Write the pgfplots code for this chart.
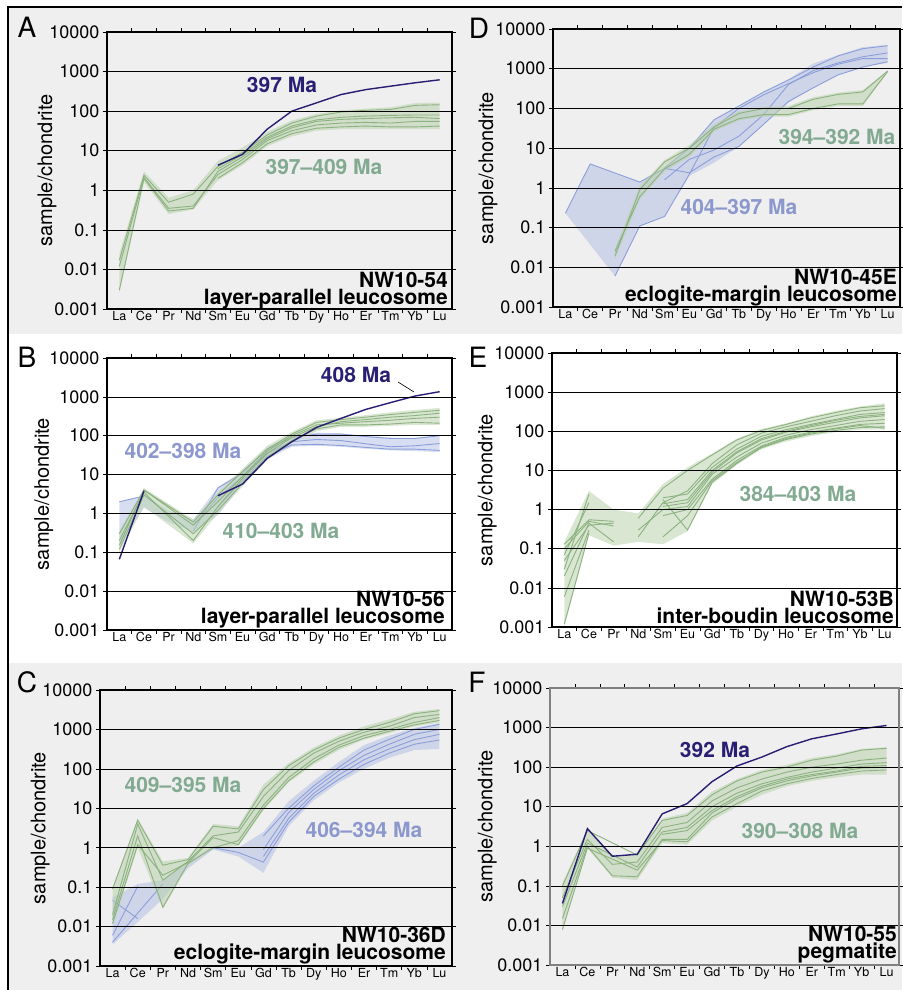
\documentclass[border=0pt]{standalone}
\usepackage{fontspec}
\setmainfont{TeX Gyre Heros}
\usepackage{pgfplots}
\pgfplotsset{compat=1.18}

\definecolor{bggray}{RGB}{239,239,239}
\definecolor{navy}{RGB}{40,30,115}
\definecolor{gline}{RGB}{140,178,128}
\definecolor{gfill}{RGB}{185,209,173}
\definecolor{gtext}{RGB}{130,170,145}
\definecolor{bline}{RGB}{140,158,218}
\definecolor{bfill}{RGB}{176,189,228}
\definecolor{btext}{RGB}{140,152,205}
\definecolor{fgray}{RGB}{128,128,128}

\tikzset{
 gband/.style={fill=gfill, fill opacity=0.55, draw=none},
 bband/.style={fill=bfill, fill opacity=0.5, draw=none},
 gl/.style={gline, line width=0.9pt},
 bl/.style={bline, line width=0.9pt},
 nl/.style={navy, line width=1.4pt},
}
\newcommand{\lab}{\fontsize{21}{21}\selectfont\bfseries}
\newcommand{\cf}{\fontsize{12.5}{13}\selectfont}
\begin{document}
\begin{tikzpicture}
\path[use as bounding box] (0pt,0pt) rectangle (902pt,-990pt);
\fill[bggray] (8pt,-8pt) rectangle (902pt,-334pt);
\fill[bggray] (8pt,-663pt) rectangle (902pt,-990pt);
\draw[line width=1.5pt] (8pt,-990pt) -- (8pt,-7pt) -- (902pt,-7pt);

% ---------------- Panel A ----------------
\begin{semilogyaxis}[at={(107pt,-309pt)}, anchor=south west, width=345pt, height=277pt,
  scale only axis, xmin=-0.5, xmax=13.5, ymin=0.001, ymax=10000,
  ytick={0.001,0.01,0.1,1,10,100,1000,10000},
  yticklabels={0.001,0.01,0.1,1,10,100,1000,10000},
  ymajorgrids, grid style={black, line width=0.7pt},
  axis line style={line width=1.3pt},
  tick align=outside, major tick length=4pt, minor tick length=0pt,
  tick style={black, line width=0.7pt},
  xtick={0.5,1.5,...,12.5}, xticklabels={},
  extra x ticks={0,1,...,13},
  extra x tick labels={{\cf La},{\cf Ce},{\cf Pr},{\cf Nd},{\cf Sm},{\cf Eu},{\cf Gd},{\cf Tb},{\cf Dy},{\cf Ho},{\cf Er},{\cf Tm},{\cf Yb},{\cf Lu}},
  extra x tick style={major tick length=0pt},
  xticklabel style={inner sep=2pt},
  yticklabel style={font=\fontsize{18}{18}\selectfont},
  /pgf/number format/assume math mode=true,
  ylabel={sample/chondrite},
  ylabel style={at={(axis description cs:-0.174,0.5)}, anchor=center, font=\fontsize{20}{20}\selectfont},
  axis on top]
\addplot[gband] coordinates {(0,0.025)(1,3)(2,0.65)(3,1.0)(4,5.5)(5,12)(6,30)(7,58)(8,85)(9,105)(10,115)(11,125)(12,160)(13,165)
 (13,35)(12,35)(11,35)(10,35)(9,35)(8,32)(7,23)(6,13)(5,4.3)(4,1.8)(3,0.33)(2,0.25)(1,1.6)(0,0.0025)} --cycle;
\addplot[gl] coordinates {(0,0.017)(1,2.4)(2,0.5)(3,0.8)(4,4)(5,9)(6,25)(7,50)(8,75)(9,95)(10,105)(11,110)(12,140)(13,145)};
\addplot[gl] coordinates {(0,0.003)(1,2.0)(2,0.3)(3,0.35)(4,3)(5,7)(6,20)(7,38)(8,55)(9,62)(10,65)(11,68)(12,70)(13,65)};
\addplot[gl] coordinates {(0,0.012)(1,2.1)(2,0.35)(3,0.4)(4,2.5)(5,6)(6,18)(7,32)(8,45)(9,50)(10,52)(11,50)(12,55)(13,55)};
\addplot[gl] coordinates {(4,2)(5,5)(6,15)(7,27)(8,37)(9,40)(10,42)(11,40)(12,40)(13,42)};
\addplot[gl] coordinates {(4,3.5)(5,8)(6,22)(7,42)(8,60)(9,70)(10,75)(11,78)(12,80)(13,80)};
\addplot[nl] coordinates {(4,4.3)(5,8.1)(6,35)(7,100)(8,162)(9,263)(10,350)(11,427)(12,520)(13,620)};
\end{semilogyaxis}

% ---------------- Panel D ----------------
\begin{semilogyaxis}[at={(553pt,-307pt)}, anchor=south west, width=347pt, height=278pt,
  scale only axis, xmin=-0.5, xmax=13.5, ymin=0.001, ymax=10000,
  ytick={0.001,0.01,0.1,1,10,100,1000,10000},
  yticklabels={0.001,0.01,0.1,1,10,100,1000,10000},
  ymajorgrids, grid style={black, line width=0.7pt},
  axis line style={line width=1.3pt},
  tick align=outside, major tick length=4pt, minor tick length=0pt,
  tick style={black, line width=0.7pt},
  xtick={0.5,1.5,...,12.5}, xticklabels={},
  extra x ticks={0,1,...,13},
  extra x tick labels={{\cf La},{\cf Ce},{\cf Pr},{\cf Nd},{\cf Sm},{\cf Eu},{\cf Gd},{\cf Tb},{\cf Dy},{\cf Ho},{\cf Er},{\cf Tm},{\cf Yb},{\cf Lu}},
  extra x tick style={major tick length=0pt},
  xticklabel style={inner sep=2pt},
  yticklabel style={font=\fontsize{18}{18}\selectfont},
  /pgf/number format/assume math mode=true,
  ylabel={sample/chondrite},
  ylabel style={at={(axis description cs:-0.187,0.5)}, anchor=center, font=\fontsize{20}{20}\selectfont},
  axis on top]
\addplot[bband] coordinates {(0,0.23)(1,4.0)(3,1.4)(4,3.2)(5,10)(6,52)(7,115)(8,260)(9,540)(10,1350)(11,2200)(12,3500)(13,4000)
 (13,1400)(12,1100)(11,700)(10,330)(9,140)(8,40)(7,11)(6,4.3)(5,2.0)(4,0.19)(3,0.11)(2,0.006)} --cycle;
\addplot[bl] coordinates {(0,0.23)(1,4.0)(3,1.4)(4,3.1)(5,2.4)(6,6)(7,11)(8,40)(9,150)(10,330)(11,700)(12,1100)(13,1500)};
\addplot[bl] coordinates {(2,0.006)(3,0.11)(4,0.19)(5,2.2)(6,33)(7,100)(8,220)(9,420)(10,800)(11,1300)(12,1800)(13,1800)};
\addplot[bl] coordinates {(4,1.6)(5,5.2)(6,9)(7,20)(8,70)(9,400)(10,900)(11,1400)(12,2000)(13,2500)};
\addplot[bl] coordinates {(4,3.2)(5,10)(6,52)(7,115)(8,260)(9,520)(10,1100)(11,2100)(12,3200)(13,3800)};
\addplot[gband] coordinates {(2,0.03)(3,1.1)(4,5)(5,12)(6,40)(7,85)(8,110)(9,115)(10,190)(11,250)(12,290)(13,900)
 (13,800)(12,115)(11,115)(10,90)(9,62)(8,62)(7,50)(6,26)(5,6)(4,2.6)(3,0.5)(2,0.016)} --cycle;
\addplot[gl] coordinates {(2,0.019)(3,0.9)(4,4.5)(5,10)(6,34)(7,75)(8,100)(9,100)(10,170)(11,225)(12,260)(13,870)};
\addplot[gl] coordinates {(2,0.025)(3,0.6)(4,3)(5,7)(6,30)(7,55)(8,70)(9,70)(10,100)(11,130)(12,130)(13,850)};
\end{semilogyaxis}

% ---------------- Panel B ----------------
\begin{semilogyaxis}[at={(107pt,-630pt)}, anchor=south west, width=345pt, height=272pt,
  scale only axis, xmin=-0.5, xmax=13.5, ymin=0.001, ymax=10000,
  ytick={0.001,0.01,0.1,1,10,100,1000,10000},
  yticklabels={0.001,0.01,0.1,1,10,100,1000,10000},
  ymajorgrids, grid style={black, line width=0.7pt},
  axis line style={line width=1.3pt},
  tick align=outside, major tick length=4pt, minor tick length=0pt,
  tick style={black, line width=0.7pt},
  xtick={0.5,1.5,...,12.5}, xticklabels={},
  extra x ticks={0,1,...,13},
  extra x tick labels={{\cf La},{\cf Ce},{\cf Pr},{\cf Nd},{\cf Sm},{\cf Eu},{\cf Gd},{\cf Tb},{\cf Dy},{\cf Ho},{\cf Er},{\cf Tm},{\cf Yb},{\cf Lu}},
  extra x tick style={major tick length=0pt},
  xticklabel style={inner sep=2pt},
  yticklabel style={font=\fontsize{18}{18}\selectfont},
  /pgf/number format/assume math mode=true,
  ylabel={sample/chondrite},
  ylabel style={at={(axis description cs:-0.183,0.5)}, anchor=center, font=\fontsize{20}{20}\selectfont},
  axis on top]
\addplot[bband] coordinates {(0,2.0)(1,2.9)(2,1.2)(3,0.7)(4,4.8)(5,12)(6,50)(7,100)(8,120)(9,115)(10,100)(11,90)(12,88)(13,105)
 (13,38)(12,40)(11,42)(10,46)(9,52)(8,55)(7,52)(6,25)(5,6)(4,0.9)(3,0.33)(2,0.6)(1,1.4)(0,0.15)} --cycle;
\addplot[bl] coordinates {(0,2.0)(1,2.8)};
\addplot[bl] coordinates {(3,0.35)(4,4.5)(5,11)(6,45)(7,90)(8,110)(9,110)(10,95)(11,85)(12,85)(13,100)};
\addplot[bl] coordinates {(3,0.5)(4,2.5)(5,9)(6,35)(7,70)(8,80)(9,75)(10,62)(11,52)(12,55)(13,63)};
\addplot[bl] coordinates {(4,1.5)(5,7)(6,30)(7,58)(8,60)(9,56)(10,50)(11,45)(12,45)(13,42)};
\addplot[gband] coordinates {(0,0.35)(1,4.5)(3,0.7)(4,3.5)(5,14)(6,55)(7,125)(8,250)(9,290)(10,340)(11,400)(12,460)(13,520)
 (13,190)(12,190)(11,180)(10,170)(9,170)(8,130)(7,65)(6,24)(5,5)(4,1.0)(3,0.17)(1,1.5)(0,0.1)} --cycle;
\addplot[gl] coordinates {(0,0.3)(1,4)(3,0.6)(4,3)(5,12)(6,45)(7,110)(8,220)(9,260)(10,300)(11,350)(12,400)(13,450)};
\addplot[gl] coordinates {(0,0.2)(1,3.5)(3,0.2)(4,1.5)(5,8)(6,35)(7,90)(8,170)(9,230)(10,260)(11,300)(12,330)(13,380)};
\addplot[gl] coordinates {(0,0.15)(1,4)(3,0.5)(4,2)(5,9)(6,40)(7,100)(8,190)(9,210)(10,230)(11,250)(12,280)(13,300)};
\addplot[gl] coordinates {(0,0.12)(1,3)(3,0.3)(4,1.2)(5,6)(6,28)(7,75)(8,150)(9,190)(10,190)(11,200)(12,220)(13,210)};
\addplot[nl] coordinates {(0,0.066)(1,3.8)};
\addplot[nl] coordinates {(4,2.85)(5,5.7)(6,26)(7,70)(8,163)(9,280)(10,475)(11,710)(12,1050)(13,1360)};
\end{semilogyaxis}

% ---------------- Panel E ----------------
\begin{semilogyaxis}[at={(552pt,-627pt)}, anchor=south west, width=345pt, height=274pt,
  scale only axis, xmin=-0.5, xmax=13.5, ymin=0.001, ymax=10000,
  ytick={0.001,0.01,0.1,1,10,100,1000,10000},
  yticklabels={0.001,0.01,0.1,1,10,100,1000,10000},
  ymajorgrids, grid style={black, line width=0.7pt},
  axis line style={line width=1.3pt},
  tick align=outside, major tick length=4pt, minor tick length=0pt,
  tick style={black, line width=0.7pt},
  xtick={0.5,1.5,...,12.5}, xticklabels={},
  extra x ticks={0,1,...,13},
  extra x tick labels={{\cf La},{\cf Ce},{\cf Pr},{\cf Nd},{\cf Sm},{\cf Eu},{\cf Gd},{\cf Tb},{\cf Dy},{\cf Ho},{\cf Er},{\cf Tm},{\cf Yb},{\cf Lu}},
  extra x tick style={major tick length=0pt},
  xticklabel style={inner sep=2pt},
  yticklabel style={font=\fontsize{18}{18}\selectfont},
  /pgf/number format/assume math mode=true,
  ylabel={sample/chondrite},
  ylabel style={at={(axis description cs:-0.188,0.5)}, anchor=center, font=\fontsize{20}{20}\selectfont},
  axis on top]
\addplot[gband] coordinates {(0,0.15)(1,3)(2,1.0)(3,0.8)(4,4.5)(5,12)(6,27)(7,65)(8,115)(9,160)(10,240)(11,330)(12,430)(13,520)
 (13,110)(12,110)(11,95)(10,75)(9,55)(8,35)(7,14)(6,4.5)(5,0.28)(4,0.13)(3,0.15)(2,0.12)(1,0.22)(0,0.001)} --cycle;
\addplot[gl] coordinates {(0,0.13)(1,0.55)(2,0.5)};
\addplot[gl] coordinates {(0,0.1)(1,0.5)(2,0.38)};
\addplot[gl] coordinates {(0,0.07)(1,1.5)};
\addplot[gl] coordinates {(0,0.05)(1,0.4)(2,0.45)};
\addplot[gl] coordinates {(0,0.03)(1,2.5)};
\addplot[gl] coordinates {(0,0.02)(1,0.45)(2,0.15)};
\addplot[gl] coordinates {(0,0.006)(1,0.3)};
\addplot[gl] coordinates {(0,0.0012)(1,0.25)};
\addplot[gl] coordinates {(3,0.6)(4,3.5)(5,10)(6,25)(7,60)(8,105)(9,150)(10,220)(11,300)(12,400)(13,450)};
\addplot[gl] coordinates {(3,0.2)(4,1.5)(5,3)(6,15)(7,45)(8,90)(9,130)(10,180)(11,250)(12,330)(13,380)};
\addplot[gl] coordinates {(4,2)(5,2.5)(6,12)(7,35)(8,75)(9,110)(10,150)(11,200)(12,270)(13,300)};
\addplot[gl] coordinates {(4,1.2)(5,1.5)(6,9)(7,28)(8,60)(9,95)(10,130)(11,170)(12,220)(13,250)};
\addplot[gl] coordinates {(3,0.3)(4,1)(5,1.2)(6,8)(7,22)(8,50)(9,80)(10,110)(11,140)(12,180)(13,200)};
\addplot[gl] coordinates {(4,0.7)(5,1.0)(6,6)(7,18)(8,42)(9,70)(10,95)(11,120)(12,150)(13,160)};
\addplot[gl] coordinates {(4,0.2)(5,0.7)(6,5.5)(7,16)(8,38)(9,62)(10,85)(11,105)(12,125)(13,130)};
\addplot[gl] coordinates {(4,1.8)(5,0.3)(6,5)(7,15)(8,40)(9,65)(10,90)(11,115)(12,140)(13,120)};
\addplot[gl] coordinates {(4,1.4)(5,1.8)(6,10)(7,30)(8,65)(9,100)(10,140)(11,190)(12,240)(13,270)};
\end{semilogyaxis}

% ---------------- Panel C ----------------
\begin{semilogyaxis}[at={(100pt,-966pt)}, anchor=south west, width=352pt, height=276pt,
  scale only axis, xmin=-0.5, xmax=13.5, ymin=0.001, ymax=10000,
  ytick={0.001,0.01,0.1,1,10,100,1000,10000},
  yticklabels={0.001,0.01,0.1,1,10,100,1000,10000},
  ymajorgrids, grid style={black, line width=0.7pt},
  axis line style={line width=1.3pt},
  tick align=outside, major tick length=4pt, minor tick length=0pt,
  tick style={black, line width=0.7pt},
  xtick={0.5,1.5,...,12.5}, xticklabels={},
  extra x ticks={0,1,...,13},
  extra x tick labels={{\cf La},{\cf Ce},{\cf Pr},{\cf Nd},{\cf Sm},{\cf Eu},{\cf Gd},{\cf Tb},{\cf Dy},{\cf Ho},{\cf Er},{\cf Tm},{\cf Yb},{\cf Lu}},
  extra x tick style={major tick length=0pt},
  xticklabel style={inner sep=2pt},
  yticklabel style={font=\fontsize{18}{18}\selectfont},
  /pgf/number format/assume math mode=true,
  ylabel={sample/chondrite},
  ylabel style={at={(axis description cs:-0.17,0.5)}, anchor=center, font=\fontsize{20}{20}\selectfont},
  axis on top]
\addplot[bband] coordinates {(0,0.055)(1,0.12)(2,0.15)(3,0.45)(4,1.1)(5,1.0)(6,2.5)(7,15)(8,50)(9,150)(10,400)(11,700)(12,1100)(13,1450)
 (13,320)(12,300)(11,190)(10,100)(9,45)(8,16)(7,3.5)(6,0.23)(5,0.6)(4,0.9)(3,0.3)(2,0.05)(1,0.013)(0,0.0035)} --cycle;
\addplot[bl] coordinates {(6,2)(7,10)(8,37)(9,110)(10,300)(11,560)(12,1000)(13,1350)};
\addplot[bl] coordinates {(6,0.9)(7,7.8)(8,30)(9,90)(10,220)(11,420)(12,750)(13,1000)};
\addplot[bl] coordinates {(6,0.6)(7,5.5)(8,24)(9,70)(10,170)(11,320)(12,550)(13,750)};
\addplot[bl] coordinates {(4,1.0)(5,0.76)(6,0.43)(7,4.4)(8,20)(9,55)(10,130)(11,250)(12,420)(13,540)};
\addplot[bl] coordinates {(0,0.046)(1,0.016)};
\addplot[bl] coordinates {(0,0.006)(1,0.105)};
\addplot[bl] coordinates {(0,0.004)(1,0.022)(2,0.12)};
\addplot[gband] coordinates {(0,0.1)(1,5.5)(2,0.45)(3,0.55)(4,4)(5,3.5)(6,40)(7,140)(8,350)(9,700)(10,1200)(11,1800)(12,2800)(13,3300)
 (13,1500)(12,1200)(11,800)(10,550)(9,300)(8,130)(7,45)(6,9)(5,1.1)(4,0.95)(3,0.35)(2,0.028)(1,1.0)(0,0.01)} --cycle;
\addplot[gl] coordinates {(0,0.09)(1,5)(2,0.36)(3,0.5)(4,3.5)(5,3)(6,30)(7,120)(8,300)(9,600)(10,1000)(11,1500)(12,2500)(13,3000)};
\addplot[gl] coordinates {(0,0.02)(1,4)(2,0.15)(3,0.45)(4,2)(5,2.5)(6,20)(7,90)(8,250)(9,500)(10,850)(11,1200)(12,2000)(13,2400)};
\addplot[gl] coordinates {(0,0.015)(1,2)(2,0.031)(3,0.4)(4,1.0)(5,1.5)(6,12)(7,60)(8,180)(9,400)(10,700)(11,1000)(12,1500)(13,2000)};
\addplot[gl] coordinates {(0,0.012)(1,1.2)(2,0.2)(3,0.42)(4,1.8)(5,1.2)(6,10)(7,50)(8,150)(9,350)(10,600)(11,900)(12,1300)(13,1700)};
\end{semilogyaxis}

% ---------------- Panel F ----------------
\begin{semilogyaxis}[at={(550pt,-965pt)}, anchor=south west, width=349pt, height=277pt,
  scale only axis, xmin=-0.5, xmax=13.5, ymin=0.001, ymax=10000,
  ytick={0.001,0.01,0.1,1,10,100,1000,10000},
  yticklabels={0.001,0.01,0.1,1,10,100,1000,10000},
  ymajorgrids, grid style={black, line width=0.7pt},
  axis line style={line width=1.3pt, fgray},
  tick align=outside, major tick length=4pt, minor tick length=0pt,
  tick style={black, line width=0.7pt},
  xtick={0.5,1.5,...,12.5}, xticklabels={},
  extra x ticks={0,1,...,13},
  extra x tick labels={{\cf La},{\cf Ce},{\cf Pr},{\cf Nd},{\cf Sm},{\cf Eu},{\cf Gd},{\cf Tb},{\cf Dy},{\cf Ho},{\cf Er},{\cf Tm},{\cf Yb},{\cf Lu}},
  extra x tick style={major tick length=0pt},
  xticklabel style={inner sep=2pt},
  yticklabel style={font=\fontsize{18}{18}\selectfont},
  /pgf/number format/assume math mode=true,
  ylabel={sample/chondrite},
  ylabel style={at={(axis description cs:-0.18,0.5)}, anchor=center, font=\fontsize{20}{20}\selectfont},
  axis on top]
\addplot[gband] coordinates {(0,0.12)(1,2.8)(2,0.55)(3,0.65)(4,5)(5,7)(6,24)(7,50)(8,85)(9,115)(10,170)(11,210)(12,290)(13,320)
 (13,65)(12,65)(11,55)(10,45)(9,33)(8,20)(7,10)(6,4.5)(5,1.1)(4,1.2)(3,0.14)(2,0.16)(1,0.9)(0,0.007)} --cycle;
\addplot[gl] coordinates {(0,0.1)(1,2.5)(3,0.6)(4,4.5)(5,6)(6,20)(7,45)(8,75)(9,100)(10,150)(11,190)(12,270)(13,300)};
\addplot[gl] coordinates {(0,0.05)(1,1.5)(2,0.35)(3,0.4)(4,3)(5,4)(6,14)(7,30)(8,50)(9,75)(10,100)(11,120)(12,150)(13,170)};
\addplot[gl] coordinates {(0,0.03)(1,1.2)(3,0.3)(4,2.3)(5,3)(6,10)(7,22)(8,38)(9,55)(10,75)(11,95)(12,120)(13,130)};
\addplot[gl] coordinates {(0,0.015)(1,1.0)(2,0.18)(3,0.17)(4,1.5)(5,1.5)(6,7)(7,16)(8,30)(9,45)(10,60)(11,75)(12,95)(13,100)};
\addplot[gl] coordinates {(0,0.008)(1,0.9)(3,0.25)(4,1.4)(5,1.3)(6,5.5)(7,12)(8,25)(9,38)(10,52)(11,65)(12,80)(13,85)};
\addplot[gl] coordinates {(4,2)(5,2.5)(6,8)(7,18)(8,33)(9,50)(10,65)(11,80)(12,105)(13,110)};
\addplot[nl] coordinates {(0,0.036)(1,2.8)(2,0.56)(3,0.63)(4,6.6)(5,12)(6,43)(7,107)(8,180)(9,330)(10,520)(11,690)(12,930)(13,1130)};
\end{semilogyaxis}

% ---------------- Panel letters ----------------
\begin{scope}[every node/.style={font=\fontsize{28}{28}\selectfont, anchor=center, inner sep=0pt}]
\node at (27pt,-27pt) {A};
\node at (479pt,-28pt) {D};
\node at (27pt,-357pt) {B};
\node at (478pt,-357pt) {E};
\node at (27pt,-682pt) {C};
\node at (477pt,-682pt) {F};
\end{scope}

% ---------------- Labels ----------------
\begin{scope}[every node/.style={font=\lab, inner sep=0pt}]
\node[navy, anchor=center] at (282pt,-85pt) {397 Ma};
\node[gtext, anchor=center] at (324pt,-167pt) {397--409 Ma};
\node[anchor=base east] at (448pt,-287pt) {NW10-54};
\node[anchor=base east] at (448pt,-304pt) {layer-parallel leucosome};

\node[gtext, anchor=center] at (837pt,-137pt) {394--392 Ma};
\node[btext, anchor=center] at (739pt,-207pt) {404--397 Ma};
\node[anchor=base east] at (897pt,-284pt) {NW10-45E};
\node[anchor=base east] at (897pt,-301pt) {eclogite-margin leucosome};

\node[navy, anchor=center] at (356pt,-375pt) {408 Ma};
\node[btext, anchor=center] at (183pt,-451pt) {402--398 Ma};
\node[gtext, anchor=center] at (281pt,-531pt) {410--403 Ma};
\node[anchor=base east] at (445pt,-606pt) {NW10-56};
\node[anchor=base east] at (445pt,-623pt) {layer-parallel leucosome};

\node[gtext, anchor=center] at (798pt,-494pt) {384--403 Ma};
\node[anchor=base east] at (894pt,-606pt) {NW10-53B};
\node[anchor=base east] at (894pt,-623pt) {inter-boudin leucosome};

\node[gtext, anchor=center] at (183pt,-785pt) {409--395 Ma};
\node[btext, anchor=center] at (364pt,-830pt) {406--394 Ma};
\node[anchor=base east] at (446pt,-942pt) {NW10-36D};
\node[anchor=base east] at (446pt,-959pt) {eclogite-margin leucosome};

\node[navy, anchor=center] at (715pt,-750pt) {392 Ma};
\node[gtext, anchor=center] at (800pt,-831pt) {390--308 Ma};
\node[anchor=base east] at (897pt,-941pt) {NW10-55};
\node[anchor=base east] at (897pt,-958pt) {pegmatite};
\end{scope}
\draw[line width=0.6pt] (398pt,-382pt) -- (414pt,-392pt);
\end{tikzpicture}
\end{document}
